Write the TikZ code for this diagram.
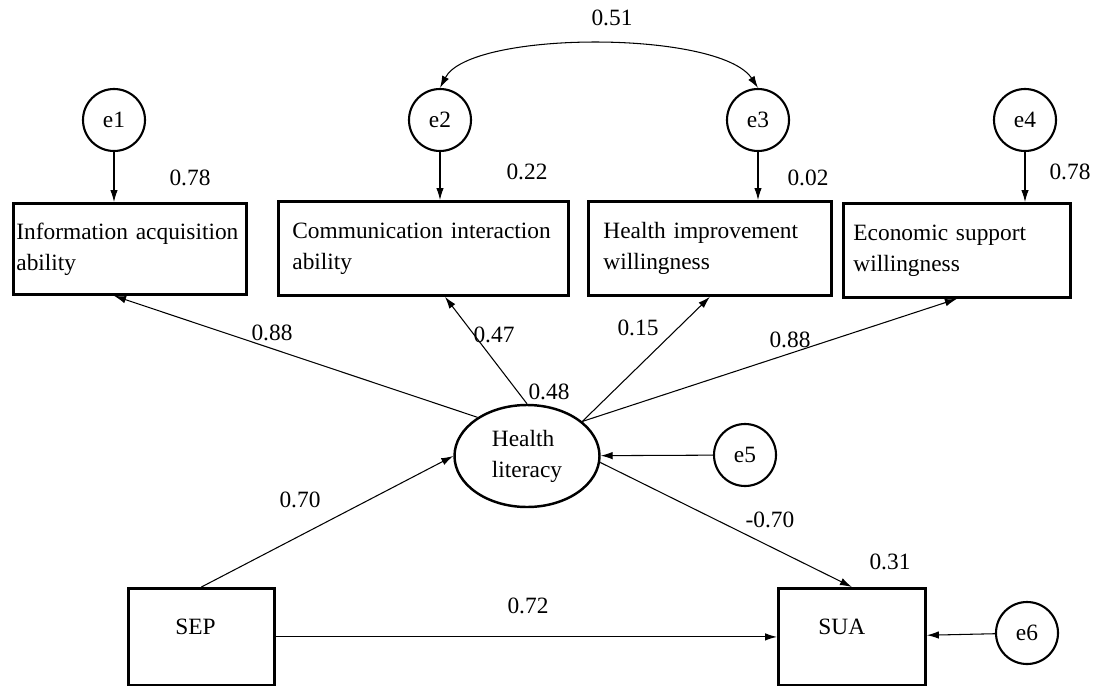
\documentclass[tikz,border=0pt]{standalone}
\usepackage{fontspec}
\setmainfont{Liberation Serif}
\usetikzlibrary{arrows.meta,shapes.geometric}

\begin{document}
\begin{tikzpicture}[x=0.2mm,y=-0.2mm,
  font=\fontsize{13.3}{17.6}\selectfont,
  err/.style={draw,circle,line width=1.2pt,minimum size=12.4mm,inner sep=0pt},
  obs/.style={draw,line width=1.6pt,anchor=north west,align=left,inner ysep=0pt},
  lat/.style={draw,ellipse,line width=1.4pt,minimum width=29mm,minimum height=20.4mm,inner sep=0pt,align=left},
  path/.style={line width=0.6pt,-{Latex[length=2.4mm,width=1.5mm]}},
  cov/.style={line width=0.6pt,{Latex[length=2.4mm,width=1.5mm]}-{Latex[length=2.4mm,width=1.5mm]}}]
  \useasboundingbox (0,0) rectangle (1094,685);

  \node[err] (e1) at (114,120) {e1};
  \node[err] (e2) at (440,120) {e2};
  \node[err] (e3) at (758,120) {e3};
  \node[err] (e4) at (1025,120) {e4};
  \node[err] (e5) at (745,455) {e5};
  \node[err] (e6) at (1027,633) {e6};

  \node[obs,inner xsep=0.6mm,text width=45.4mm,minimum height=18.2mm] (b1) at (12,202) {Information acquisition\\ability};
  \node[obs,inner xsep=2.8mm,text width=52.4mm,minimum height=18.8mm] (b2) at (277,200) {Communication interaction\\ability};
  \node[obs,inner xsep=3mm,text width=42.6mm,minimum height=18.8mm] (b3) at (587,200) {Health improvement\\willingness};
  \node[obs,inner xsep=2mm,text width=41.4mm,minimum height=18.8mm] (b4) at (842,202) {Economic support\\willingness};

  \node[lat] (hl) at (527,456) {Health\\literacy};

  \node[obs,inner xsep=9.4mm,text width=10.4mm,minimum height=19.4mm,text depth=4.2mm] (sep) at (127,587) {SEP};
  \node[obs,inner xsep=8mm,text width=13.4mm,minimum height=19.4mm,text depth=4.2mm] (sua) at (777,587) {SUA};

  \draw[cov] (e2.north) .. controls (470,30) and (720,30) .. (e3.north);
  \foreach \e/\b in {e1/b1,e2/b2,e3/b3,e4/b4}
    \draw[path] (\e) -- (\b.north -| \e);

  \draw[path] (hl.142) -- (b1.south -| e1);
  \draw[path] (hl.90) -- (445,0 |- b2.south);
  \draw[path] (hl.32) -- (b3.south);
  \draw[path] (hl.32) -- (b4.south);
  \draw[path] (e5) -- (hl);
  \draw[path] (sep.north) -- (hl.west);
  \draw[path] (hl.-5) -- (sua.north);
  \draw[path] (sep) -- (sua);
  \draw[path] (e6) -- (sua);

  \node (l51) at (612,18) {0.51};
  \node (l78a) at (190,178) {0.78};
  \node (l22) at (527,172) {0.22};
  \node (l02) at (808,178) {0.02};
  \node (l78b) at (1070,172) {0.78};
  \node (l88a) at (272,333) {0.88};
  \node (l47) at (494,335) {0.47};
  \node (l15) at (638,328) {0.15};
  \node (l88b) at (790,340) {0.88};
  \node (l48) at (549,392) {0.48};
  \node (l70) at (300,500) {0.70};
  \node (ln70) at (770,520) {-0.70};
  \node (l31) at (890,562) {0.31};
  \node (l72) at (528,606) {0.72};
\end{tikzpicture}
\end{document}
